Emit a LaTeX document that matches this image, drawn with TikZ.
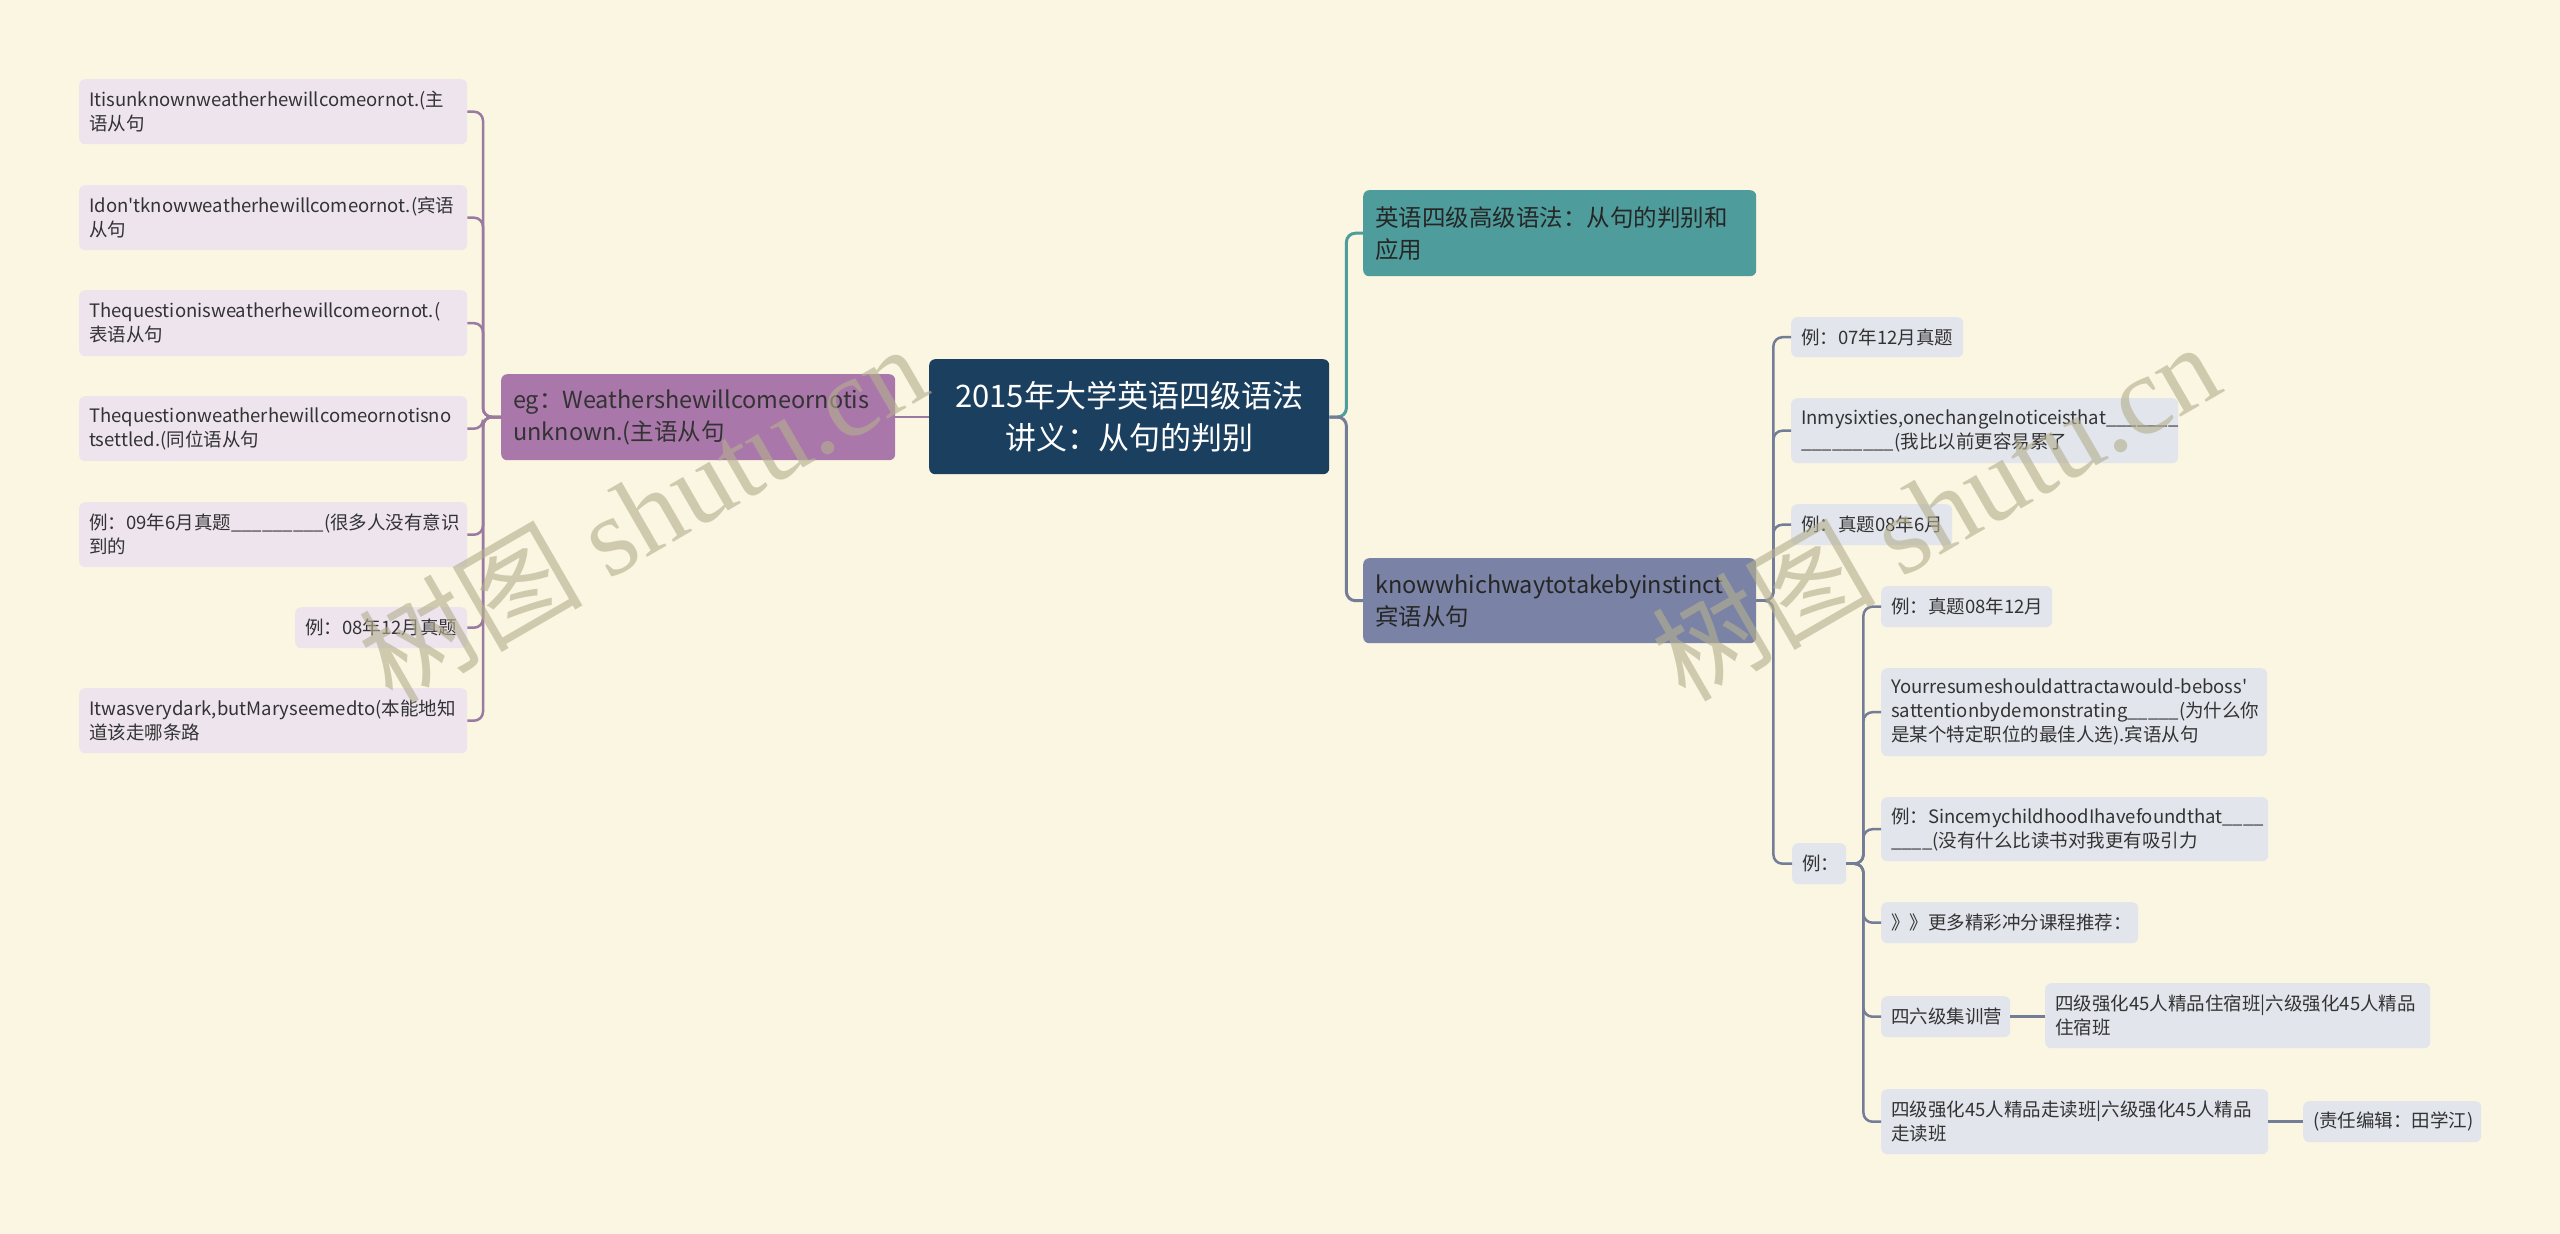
\documentclass[tikz,border=0pt]{standalone}
\usepackage{fontspec}
\setmainfont{Noto Sans CJK SC}
\newfontfamily\wmserif{Liberation Serif}
\usetikzlibrary{calc, positioning}

\definecolor{bgcol}{HTML}{FBF6E1}
\definecolor{rootfill}{HTML}{1B3F5E}
\definecolor{egfill}{HTML}{A977A9}
\definecolor{tealfill}{HTML}{4E9C9B}
\definecolor{kwfill}{HTML}{7A83A5}
\definecolor{leafLfill}{HTML}{EDE4EE}
\definecolor{leafRfill}{HTML}{E3E5EC}
\definecolor{linkLcol}{HTML}{9A7AA0}
\definecolor{linkRcol}{HTML}{747D98}
\definecolor{txtdark}{HTML}{333333}
\definecolor{wmcol}{HTML}{B4AF90}

\newcommand\leaffont{\fontsize{18.5pt}{24pt}\selectfont}
\newcommand\mainfont{\fontsize{23.5pt}{32pt}\selectfont}
\newcommand\rootfont{\fontsize{31pt}{42pt}\selectfont}

\tikzset{
  box/.style={rectangle, rounded corners=6pt, inner xsep=10pt, inner ysep=0pt,
    anchor=north west, align=left, text=txtdark},
  leafL/.style={box, fill=leafLfill, font=\leaffont},
  leafR/.style={box, fill=leafRfill, font=\leaffont},
  mainbox/.style={box, inner xsep=12pt, font=\mainfont},
  linkL/.style={draw=linkLcol, line width=2.5pt, rounded corners=9pt},
  linkR/.style={draw=linkRcol, line width=2.5pt, rounded corners=9pt},
  linkT/.style={draw=tealfill, line width=3pt, rounded corners=9pt},
  watermark/.style={text=wmcol, opacity=0.62, font=\fontsize{112pt}{112pt}\selectfont, rotate=30}
}

\begin{document}
\begin{tikzpicture}[x=1pt, y=-1pt]
\useasboundingbox (0,0) rectangle (2560,1234);
\fill[bgcol] (0,0) rectangle (2560,1234);

% centre
\node[box, fill=rootfill, text=white, align=center, font=\rootfont,
  text width=376pt, minimum height=115pt, inner xsep=12pt] (root) at (929,359)
  {2015年大学英语四级语法\\讲义：从句的判别};

% left branch
\node[mainbox, fill=egfill, text=black!80, text width=370pt, minimum height=86pt] (eg) at (501,374)
  {eg：Weathershewillcomeornotis\\unknown.(主语从句};

\node[leafL, text width=368pt, minimum height=65pt] (l1) at (79,79)
  {Itisunknownweatherhewillcomeornot.(主\\语从句};
\node[leafL, text width=368pt, minimum height=65pt] (l2) at (79,185)
  {Idon\textquotesingle tknowweatherhewillcomeornot.(宾语\\从句};
\node[leafL, text width=368pt, minimum height=66pt] (l3) at (79,290)
  {Thequestionisweatherhewillcomeornot.(\\表语从句};
\node[leafL, text width=368pt, minimum height=65pt] (l4) at (79,396)
  {Thequestionweatherhewillcomeornotisno\\tsettled.(同位语从句};
\node[leafL, text width=368pt, minimum height=65pt] (l5) at (79,502)
  {例：09年6月真题\_\_\_\_\_\_\_\_\_(很多人没有意识\\到的};
\node[leafL, text width=152pt, minimum height=41pt] (l6) at (295,607)
  {例：08年12月真题};
\node[leafL, text width=368pt, minimum height=65pt] (l7) at (79,688)
  {Itwasverydark,butMaryseemedto(本能地知\\道该走哪条路};

\draw[linkL] (root.west |- 0,417) -- (eg.east |- 0,417);
\foreach \n in {l1,l2,l3,l4,l5,l6,l7}
  \draw[linkL] (eg.west |- 0,417) -- ++(-18,0) |- (\n.east);

% right branches
\node[mainbox, fill=tealfill, text=black!85, text width=369pt, minimum height=86pt] (teal) at (1363,190)
  {英语四级高级语法：从句的判别和\\应用};
\node[mainbox, fill=kwfill, text=black!85, text width=369pt, minimum height=85pt] (kw) at (1363,558)
  {knowwhichwaytotakebyinstinct\\宾语从句};

\draw[linkT] (root.east |- 0,417) -- ++(17,0) |- (teal.west);
\draw[linkR, line width=3pt] (root.east |- 0,417) -- ++(17,0) |- (kw.west);

\node[leafR, text width=152pt, minimum height=40pt] (r1) at (1791,317)
  {例：07年12月真题};
\node[leafR, text width=367pt, minimum height=65pt] (r2) at (1791,398)
  {Inmysixties,onechangeInoticeisthat\_\_\_\_\_\_\_\\\_\_\_\_\_\_\_\_\_(我比以前更容易累了};
\node[leafR, text width=141pt, minimum height=41pt] (r3) at (1791,504)
  {例：真题08年6月};
\node[leafR, text width=34pt, minimum height=41pt] (ex) at (1792,843)
  {例：};

\foreach \n in {r1,r2,r3,ex}
  \draw[linkR] (kw.east) -- ++(17,0) |- (\n.west);

\node[leafR, text width=151pt, minimum height=41pt] (s1) at (1881,586)
  {例：真题08年12月};
\node[leafR, text width=366pt, minimum height=88pt] (s2) at (1881,668)
  {Yourresumeshouldattractawould-beboss\textquotesingle\\sattentionbydemonstrating\_\_\_\_\_(为什么你\\是某个特定职位的最佳人选).宾语从句};
\node[leafR, text width=367pt, minimum height=64pt] (s3) at (1881,797)
  {例：SincemychildhoodIhavefoundthat\_\_\_\_\\\_\_\_\_(没有什么比读书对我更有吸引力};
\node[leafR, text width=237pt, minimum height=41pt] (s4) at (1881,902)
  {》》更多精彩冲分课程推荐：};
\node[leafR, text width=109pt, minimum height=41pt] (s5) at (1881,996)
  {四六级集训营};
\node[leafR, text width=365pt, minimum height=65pt] (s6) at (2045,983)
  {四级强化45人精品住宿班|六级强化45人精品\\住宿班};
\node[leafR, text width=367pt, minimum height=65pt] (s7) at (1881,1089)
  {四级强化45人精品走读班|六级强化45人精品\\走读班};
\node[leafR, text width=158pt, minimum height=41pt] (s8) at (2303,1101)
  {(责任编辑：田学江)};

\foreach \n in {s1,s2,s3,s4,s5,s7}
  \draw[linkR] (ex.east) -- ++(17,0) |- (\n.west);
\draw[linkR] (s5.east) -- (s5.east -| s6.west);
\draw[linkR] (s7.east) -- (s7.east -| s8.west);

% watermarks
\node[watermark] (wm1) at (642,512) {树图 {\wmserif shutu.cn}};
\node[watermark] (wm2) at (1935,510) {树图 {\wmserif shutu.cn}};
\end{tikzpicture}
\end{document}
